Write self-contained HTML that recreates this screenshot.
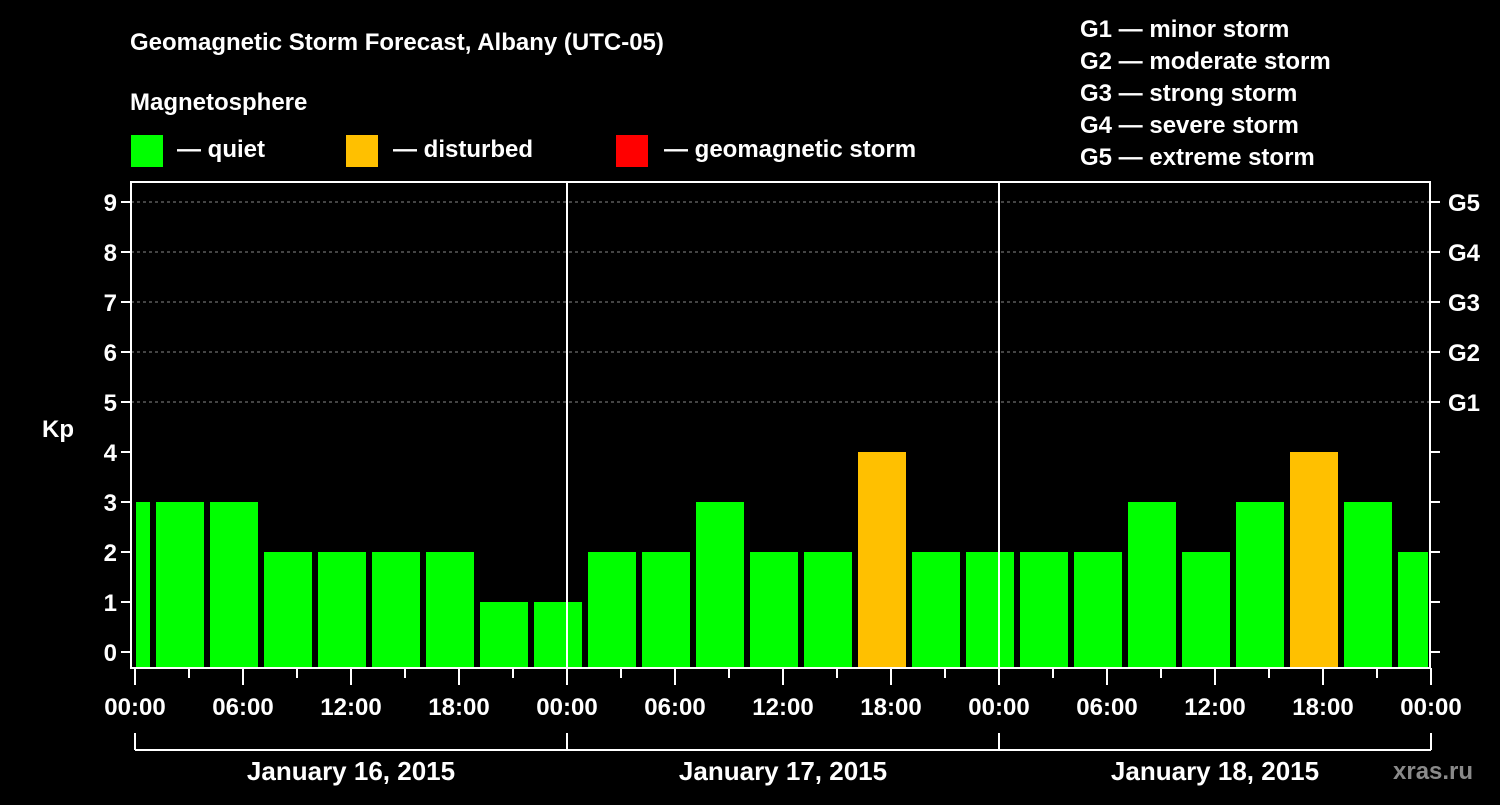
<!DOCTYPE html>
<html><head><meta charset="utf-8"><style>
body{margin:0;background:#000;width:1500px;height:800px;overflow:hidden}
svg text{font-family:"Liberation Sans",sans-serif;font-weight:bold;fill:#fff}
</style></head><body>
<svg width="1500" height="800">
<rect width="1500" height="800" fill="#000"/>
<text x="130" y="50" font-size="24">Geomagnetic Storm Forecast, Albany (UTC-05)</text>
<text x="130" y="110" font-size="24">Magnetosphere</text>
<g><rect x="131" y="135" width="32" height="32" fill="#00ff00"/><text x="177" y="157" font-size="24">— quiet</text></g>
<g><rect x="346" y="135" width="32" height="32" fill="#ffc000"/><text x="393" y="157" font-size="24">— disturbed</text></g>
<g><rect x="616" y="135" width="32" height="32" fill="#ff0000"/><text x="664" y="157" font-size="24">— geomagnetic storm</text></g>
<g font-size="24">
<text x="1080" y="37">G1 — minor storm</text><text x="1080" y="69">G2 — moderate storm</text><text x="1080" y="101">G3 — strong storm</text><text x="1080" y="133">G4 — severe storm</text><text x="1080" y="165">G5 — extreme storm</text></g>
<g id="plot"></g>
<text x="42" y="437" font-size="24">Kp</text>
<text x="1393" y="779" font-size="24" fill="#888" style="fill:#8a8a8a">xras.ru</text>
</svg>
<script>
const kpValues=[3,3,3,2,2,2,2,1,1,2,2,3,2,2,4,2,2,2,2,3,2,3,4,3,2];
const dayLabels=["January 16, 2015","January 17, 2015","January 18, 2015"];
const hourLabels=["00:00","06:00","12:00","18:00"];
const gLabels=["G1","G2","G3","G4","G5"];
const firstBarStartHour=-2;
const NS="http://www.w3.org/2000/svg";
const g=document.getElementById('plot');
const x0=135,pxH=18,L=131,R=1430,T=182,B=668;
const X=h=>x0+h*pxH, Y=v=>652-v*50;
function mk(t,a,p){const e=document.createElementNS(NS,t);for(const k in a)e.setAttribute(k,a[k]);(p||g).appendChild(e);return e;}
for(let v=5;v<=9;v++){const l=mk('line',{x1:L,x2:R,y1:Y(v),y2:Y(v),stroke:'#888','stroke-dasharray':'3,3'});

}
kpValues.forEach((v,i)=>{const s=firstBarStartHour+3*i;let a=X(s)+3,b=X(s+3)-3;a=Math.max(a,L+5);b=Math.min(b,R-2);
const r=mk('rect',{x:a,y:Y(v),width:b-a,height:B-Y(v),fill:v>=5?'#ff0000':v>=4?'#ffc000':'#00ff00'});

});
for(let d=1;d<3;d++){const l=mk('line',{x1:X(24*d),x2:X(24*d),y1:T,y2:B,stroke:'#fff','stroke-width':2});

}
mk('rect',{x:L,y:T,width:R-L,height:B-T,fill:'none',stroke:'#fff','stroke-width':2});
for(let v=0;v<=9;v++){mk('line',{x1:L-10,x2:L,y1:Y(v),y2:Y(v),stroke:'#fff','stroke-width':2});
mk('line',{x1:R,x2:R+10,y1:Y(v),y2:Y(v),stroke:'#fff','stroke-width':2});
const t=mk('text',{x:L-14,y:Y(v)+9,'text-anchor':'end','font-size':24});t.textContent=v;


if(v>=5){const t2=mk('text',{x:R+18,y:Y(v)+9,'font-size':24});t2.textContent=gLabels[v-5];

}}
for(let h=0;h<=72;h+=3){const big=h%6==0;mk('line',{x1:X(h),x2:X(h),y1:B,y2:B+(big?17:10),stroke:'#fff','stroke-width':2});
if(big){const t=mk('text',{x:X(h),y:715,'text-anchor':'middle','font-size':24});t.textContent=hourLabels[(h%24)/6];

}}
mk('line',{x1:X(0),x2:X(72),y1:750,y2:750,stroke:'#fff','stroke-width':2});
for(let d=0;d<=3;d++)mk('line',{x1:X(24*d),x2:X(24*d),y1:733,y2:750,stroke:'#fff','stroke-width':2});
dayLabels.forEach((s,d)=>{const t=mk('text',{x:X(24*d+12),y:780,'text-anchor':'middle','font-size':26});t.textContent=s;

});
</script>
</body></html>
